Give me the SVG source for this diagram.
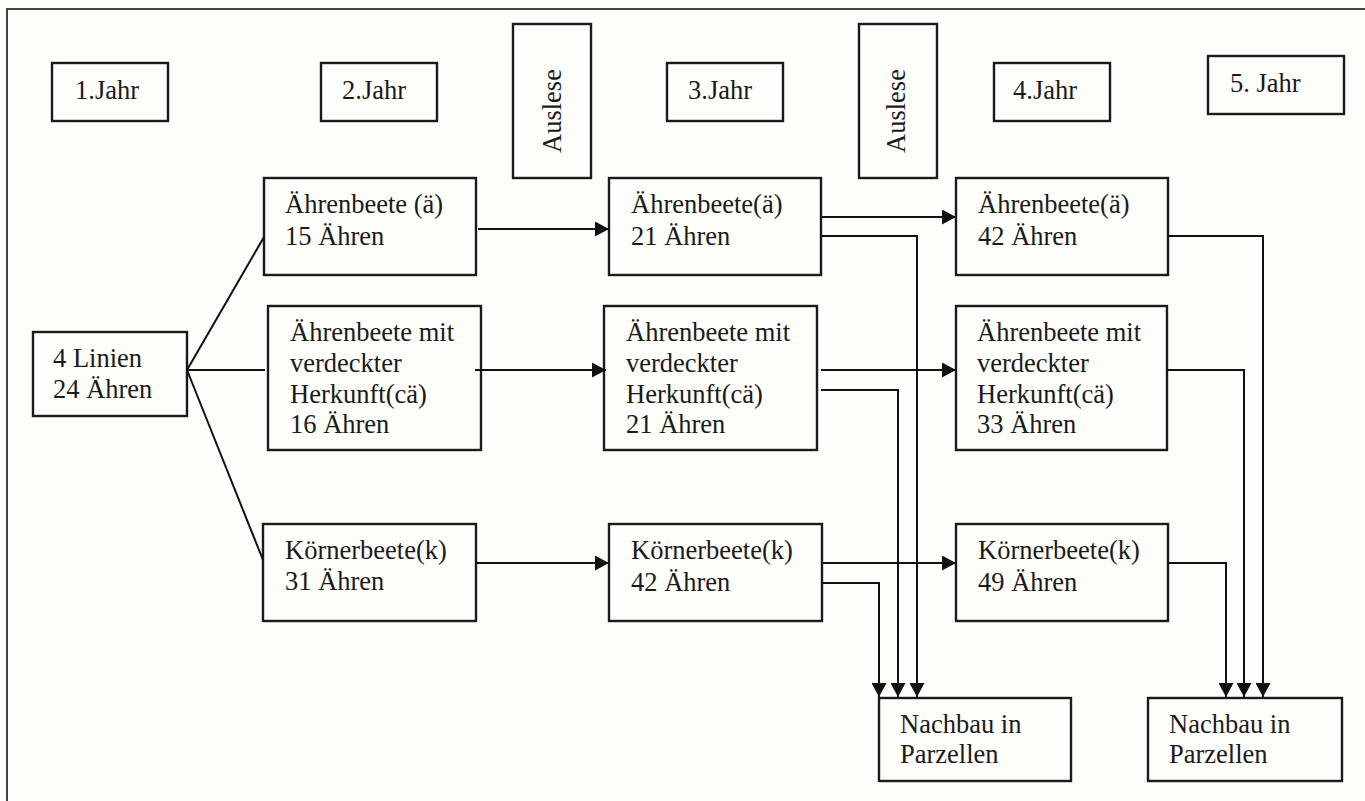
<svg xmlns="http://www.w3.org/2000/svg" width="1365" height="801" viewBox="0 0 1365 801">
<style>
.box{fill:none;stroke:#1a1a1a;stroke-width:2.4}
.t{font-family:"Liberation Serif","Times New Roman",serif;font-size:26.5px;fill:#1a1a1a}
.c{fill:none;stroke:#111;stroke-width:2}
</style>
<defs>
<marker id="ah" viewBox="0 0 14 15" refX="14" refY="7.5" markerWidth="14" markerHeight="15" markerUnits="userSpaceOnUse" orient="auto">
<path d="M0,0 L14,7.5 L0,15 Z" fill="#111"/>
</marker>
</defs>
<rect width="1365" height="801" fill="#fdfdfa"/>
<path d="M7,801 V9 H1365" fill="none" stroke="#444" stroke-width="2"/>

<g id="jahr1"><rect class="box" x="52" y="63" width="116" height="58"/><text class="t" x="75" y="99">1.Jahr</text></g>
<g id="jahr2"><rect class="box" x="321" y="63" width="116" height="58"/><text class="t" x="342" y="99">2.Jahr</text></g>
<g id="jahr3"><rect class="box" x="667" y="63" width="116" height="58"/><text class="t" x="688" y="99">3.Jahr</text></g>
<g id="jahr4"><rect class="box" x="994" y="63" width="116" height="58"/><text class="t" x="1013" y="99">4.Jahr</text></g>
<g id="jahr5"><rect class="box" x="1208" y="56" width="136" height="58"/><text class="t" x="1230" y="92">5. Jahr</text></g>
<g id="auslese1"><rect class="box" x="513" y="24" width="78" height="154"/><text class="t" transform="translate(561,153) rotate(-90)">Auslese</text></g>
<g id="auslese2"><rect class="box" x="859" y="24" width="78" height="154"/><text class="t" transform="translate(905,153) rotate(-90)">Auslese</text></g>

<g id="linien"><rect class="box" x="33" y="332" width="154" height="84"/><text class="t" x="53" y="367">4 Linien</text><text class="t" x="53" y="398">24 Ähren</text></g>

<g id="ae2"><rect class="box" x="264" y="178" width="212" height="97"/><text class="t" x="285" y="213">Ährenbeete (ä)</text><text class="t" x="285" y="245">15 Ähren</text></g>
<g id="cae2"><rect class="box" x="268" y="306" width="213" height="144"/><text class="t" x="290" y="341">Ährenbeete mit</text><text class="t" x="290" y="372">verdeckter</text><text class="t" x="290" y="403">Herkunft(cä)</text><text class="t" x="290" y="433">16 Ähren</text></g>
<g id="k2"><rect class="box" x="263" y="524" width="213" height="97"/><text class="t" x="285" y="559">Körnerbeete(k)</text><text class="t" x="285" y="590">31 Ähren</text></g>

<g id="ae3"><rect class="box" x="609" y="178" width="212" height="97"/><text class="t" x="631" y="213">Ährenbeete(ä)</text><text class="t" x="631" y="245">21 Ähren</text></g>
<g id="cae3"><rect class="box" x="604" y="306" width="213" height="144"/><text class="t" x="626" y="341">Ährenbeete mit</text><text class="t" x="626" y="372">verdeckter</text><text class="t" x="626" y="403">Herkunft(cä)</text><text class="t" x="626" y="433">21 Ähren</text></g>
<g id="k3"><rect class="box" x="609" y="524" width="213" height="97"/><text class="t" x="631" y="559">Körnerbeete(k)</text><text class="t" x="631" y="591">42 Ähren</text></g>

<g id="ae4"><rect class="box" x="956" y="178" width="212" height="97"/><text class="t" x="978" y="213">Ährenbeete(ä)</text><text class="t" x="978" y="245">42 Ähren</text></g>
<g id="cae4"><rect class="box" x="956" y="306" width="211" height="144"/><text class="t" x="977" y="341">Ährenbeete mit</text><text class="t" x="977" y="372">verdeckter</text><text class="t" x="977" y="403">Herkunft(cä)</text><text class="t" x="977" y="433">33 Ähren</text></g>
<g id="k4"><rect class="box" x="956" y="524" width="212" height="97"/><text class="t" x="978" y="559">Körnerbeete(k)</text><text class="t" x="978" y="591">49 Ähren</text></g>

<g id="nachbau1"><rect class="box" x="879" y="698" width="192" height="83"/><text class="t" x="900" y="733">Nachbau in</text><text class="t" x="900" y="763">Parzellen</text></g>
<g id="nachbau2"><rect class="box" x="1148" y="698" width="194" height="83"/><text class="t" x="1169" y="733">Nachbau in</text><text class="t" x="1169" y="763">Parzellen</text></g>

<g id="connectors">
<path class="c" d="M187,370 L264,237"/>
<path class="c" d="M187,370 L265,370"/>
<path class="c" d="M187,370 L263,560"/>
<path class="c" d="M478,229 H609" marker-end="url(#ah)"/>
<path class="c" d="M475,370 H606" marker-end="url(#ah)"/>
<path class="c" d="M476,563 H609" marker-end="url(#ah)"/>
<path class="c" d="M821,217 H956" marker-end="url(#ah)"/>
<path class="c" d="M821,370 H956" marker-end="url(#ah)"/>
<path class="c" d="M822,563 H956" marker-end="url(#ah)"/>
<path class="c" d="M821,236 H917 V697" marker-end="url(#ah)"/>
<path class="c" d="M821,390 H898 V697" marker-end="url(#ah)"/>
<path class="c" d="M822,583 H879 V697" marker-end="url(#ah)"/>
<path class="c" d="M1168,236 H1263 V697" marker-end="url(#ah)"/>
<path class="c" d="M1167,370 H1244 V697" marker-end="url(#ah)"/>
<path class="c" d="M1168,563 H1226 V697" marker-end="url(#ah)"/>
</g>
</svg>
